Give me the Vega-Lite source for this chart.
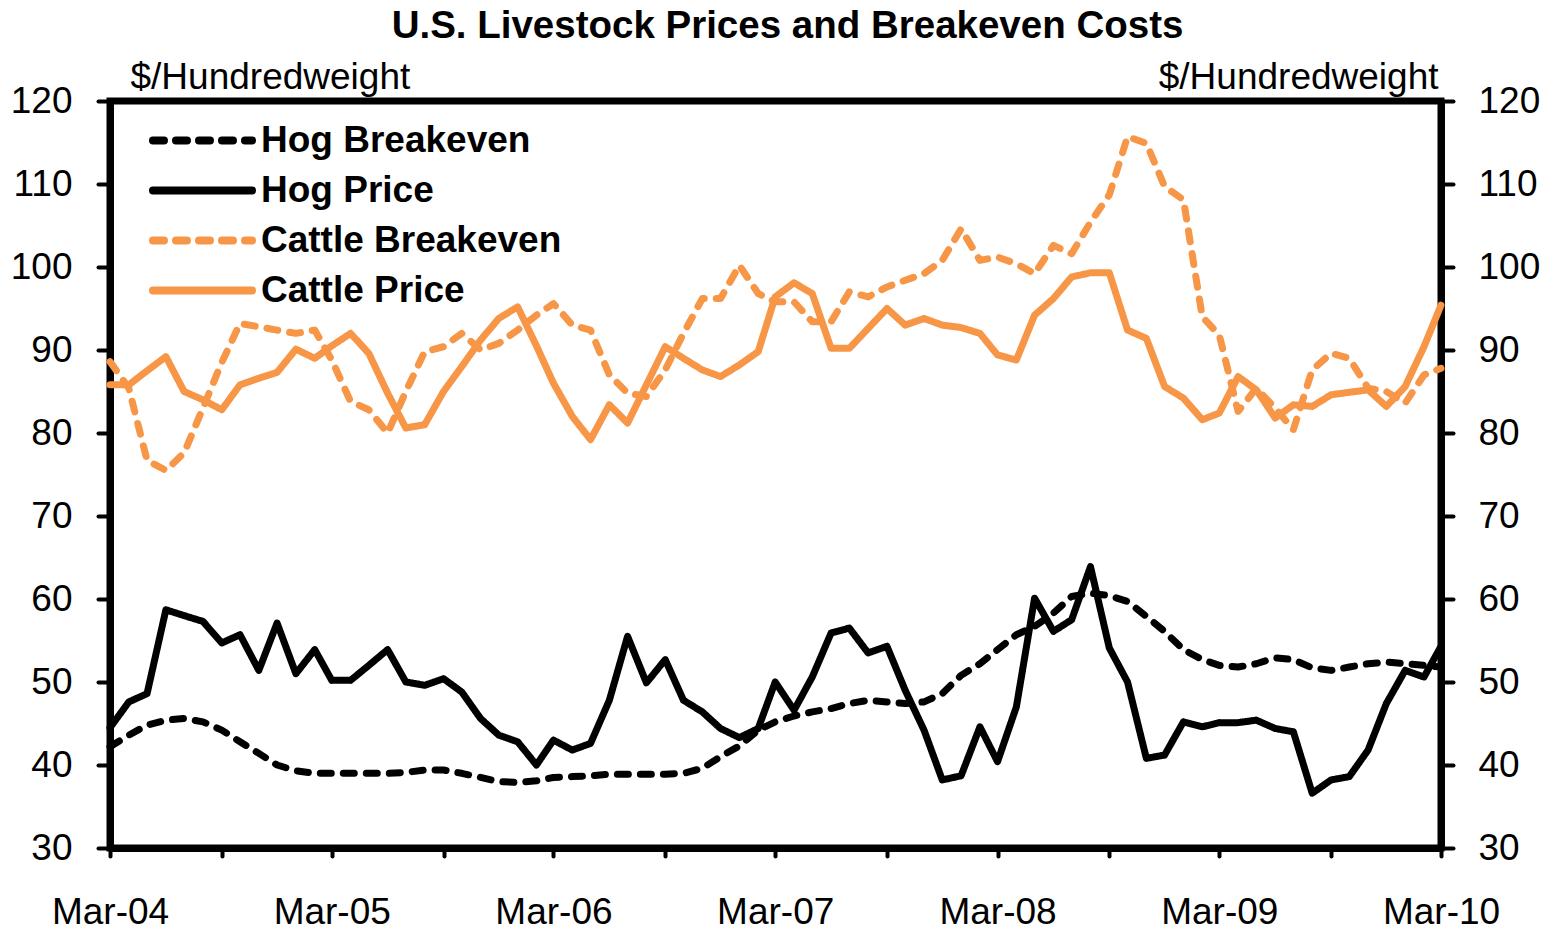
{
  "$schema": "https://vega.github.io/schema/vega-lite/v6.json",
  "width": 1331,
  "height": 747,
  "autosize": {"type": "none"},
  "padding": {"left": 110, "top": 101, "right": 104, "bottom": 82},
  "background": "white",
  "title": {"text": "U.S. Livestock Prices and Breakeven Costs", "fontSize": 38.5, "fontWeight": "bold", "font": "Liberation Sans", "color": "black", "anchor": "middle", "frame": "group", "dx": 12, "offset": 12},
  "data": {"values": [
    {"date": "2004-03-01", "Hog Breakeven": 42.2, "Hog Price": 44.5, "Cattle Breakeven": 88.6, "Cattle Price": 85.8},
    {"date": "2004-04-01", "Hog Breakeven": 43.6, "Hog Price": 47.6, "Cattle Breakeven": 85.4, "Cattle Price": 85.8},
    {"date": "2004-05-01", "Hog Breakeven": 44.8, "Hog Price": 48.6, "Cattle Breakeven": 76.7, "Cattle Price": 87.5},
    {"date": "2004-06-01", "Hog Breakeven": 45.4, "Hog Price": 58.7, "Cattle Breakeven": 75.5, "Cattle Price": 89.2},
    {"date": "2004-07-01", "Hog Breakeven": 45.6, "Hog Price": 58.0, "Cattle Breakeven": 77.6, "Cattle Price": 85.0},
    {"date": "2004-08-01", "Hog Breakeven": 45.2, "Hog Price": 57.3, "Cattle Breakeven": 83.0, "Cattle Price": 84.0},
    {"date": "2004-09-01", "Hog Breakeven": 44.2, "Hog Price": 54.7, "Cattle Breakeven": 88.5, "Cattle Price": 82.8},
    {"date": "2004-10-01", "Hog Breakeven": 42.8, "Hog Price": 55.7, "Cattle Breakeven": 93.2, "Cattle Price": 85.8},
    {"date": "2004-11-01", "Hog Breakeven": 41.4, "Hog Price": 51.4, "Cattle Breakeven": 92.8, "Cattle Price": 86.6},
    {"date": "2004-12-01", "Hog Breakeven": 40.0, "Hog Price": 57.1, "Cattle Breakeven": 92.4, "Cattle Price": 87.3},
    {"date": "2005-01-01", "Hog Breakeven": 39.3, "Hog Price": 51.0, "Cattle Breakeven": 92.0, "Cattle Price": 90.1},
    {"date": "2005-02-01", "Hog Breakeven": 39.0, "Hog Price": 53.9, "Cattle Breakeven": 92.4, "Cattle Price": 89.0},
    {"date": "2005-03-01", "Hog Breakeven": 39.0, "Hog Price": 50.2, "Cattle Breakeven": 88.8, "Cattle Price": 90.5},
    {"date": "2005-04-01", "Hog Breakeven": 39.0, "Hog Price": 50.2, "Cattle Breakeven": 83.8, "Cattle Price": 92.0},
    {"date": "2005-05-01", "Hog Breakeven": 39.0, "Hog Price": 52.0, "Cattle Breakeven": 82.8, "Cattle Price": 89.6},
    {"date": "2005-06-01", "Hog Breakeven": 39.0, "Hog Price": 53.9, "Cattle Breakeven": 80.0, "Cattle Price": 84.8},
    {"date": "2005-07-01", "Hog Breakeven": 39.1, "Hog Price": 50.0, "Cattle Breakeven": 85.0, "Cattle Price": 80.6},
    {"date": "2005-08-01", "Hog Breakeven": 39.4, "Hog Price": 49.6, "Cattle Breakeven": 89.8, "Cattle Price": 81.0},
    {"date": "2005-09-01", "Hog Breakeven": 39.4, "Hog Price": 50.4, "Cattle Breakeven": 90.4, "Cattle Price": 85.0},
    {"date": "2005-10-01", "Hog Breakeven": 39.0, "Hog Price": 48.8, "Cattle Breakeven": 92.0, "Cattle Price": 88.0},
    {"date": "2005-11-01", "Hog Breakeven": 38.5, "Hog Price": 45.6, "Cattle Breakeven": 90.0, "Cattle Price": 91.2},
    {"date": "2005-12-01", "Hog Breakeven": 38.0, "Hog Price": 43.6, "Cattle Breakeven": 90.8, "Cattle Price": 93.8},
    {"date": "2006-01-01", "Hog Breakeven": 37.9, "Hog Price": 42.8, "Cattle Breakeven": 92.4, "Cattle Price": 95.2},
    {"date": "2006-02-01", "Hog Breakeven": 38.1, "Hog Price": 40.0, "Cattle Breakeven": 94.2, "Cattle Price": 90.5},
    {"date": "2006-03-01", "Hog Breakeven": 38.5, "Hog Price": 43.0, "Cattle Breakeven": 95.6, "Cattle Price": 86.0},
    {"date": "2006-04-01", "Hog Breakeven": 38.6, "Hog Price": 41.8, "Cattle Breakeven": 93.0, "Cattle Price": 82.0},
    {"date": "2006-05-01", "Hog Breakeven": 38.7, "Hog Price": 42.6, "Cattle Breakeven": 92.4, "Cattle Price": 79.2},
    {"date": "2006-06-01", "Hog Breakeven": 38.9, "Hog Price": 47.8, "Cattle Breakeven": 87.0, "Cattle Price": 83.4},
    {"date": "2006-07-01", "Hog Breakeven": 38.9, "Hog Price": 55.5, "Cattle Breakeven": 84.8, "Cattle Price": 81.2},
    {"date": "2006-08-01", "Hog Breakeven": 38.9, "Hog Price": 49.9, "Cattle Breakeven": 84.4, "Cattle Price": 85.8},
    {"date": "2006-09-01", "Hog Breakeven": 38.9, "Hog Price": 52.7, "Cattle Breakeven": 87.6, "Cattle Price": 90.4},
    {"date": "2006-10-01", "Hog Breakeven": 39.0, "Hog Price": 47.8, "Cattle Breakeven": 92.0, "Cattle Price": 89.0},
    {"date": "2006-11-01", "Hog Breakeven": 39.6, "Hog Price": 46.4, "Cattle Breakeven": 96.2, "Cattle Price": 87.6},
    {"date": "2006-12-01", "Hog Breakeven": 41.0, "Hog Price": 44.4, "Cattle Breakeven": 96.2, "Cattle Price": 86.8},
    {"date": "2007-01-01", "Hog Breakeven": 42.3, "Hog Price": 43.3, "Cattle Breakeven": 100.2, "Cattle Price": 88.2},
    {"date": "2007-02-01", "Hog Breakeven": 44.2, "Hog Price": 44.4, "Cattle Breakeven": 96.8, "Cattle Price": 89.8},
    {"date": "2007-03-01", "Hog Breakeven": 45.2, "Hog Price": 50.0, "Cattle Breakeven": 95.8, "Cattle Price": 96.4},
    {"date": "2007-04-01", "Hog Breakeven": 45.9, "Hog Price": 46.6, "Cattle Breakeven": 95.8, "Cattle Price": 98.1},
    {"date": "2007-05-01", "Hog Breakeven": 46.4, "Hog Price": 50.6, "Cattle Breakeven": 93.4, "Cattle Price": 96.8},
    {"date": "2007-06-01", "Hog Breakeven": 46.8, "Hog Price": 55.9, "Cattle Breakeven": 93.4, "Cattle Price": 90.2},
    {"date": "2007-07-01", "Hog Breakeven": 47.4, "Hog Price": 56.5, "Cattle Breakeven": 97.0, "Cattle Price": 90.2},
    {"date": "2007-08-01", "Hog Breakeven": 47.8, "Hog Price": 53.5, "Cattle Breakeven": 96.4, "Cattle Price": 92.6},
    {"date": "2007-09-01", "Hog Breakeven": 47.6, "Hog Price": 54.3, "Cattle Breakeven": 97.6, "Cattle Price": 95.0},
    {"date": "2007-10-01", "Hog Breakeven": 47.4, "Hog Price": 49.0, "Cattle Breakeven": 98.4, "Cattle Price": 93.0},
    {"date": "2007-11-01", "Hog Breakeven": 47.6, "Hog Price": 44.2, "Cattle Breakeven": 99.2, "Cattle Price": 93.8},
    {"date": "2007-12-01", "Hog Breakeven": 48.6, "Hog Price": 38.2, "Cattle Breakeven": 100.8, "Cattle Price": 93.0},
    {"date": "2008-01-01", "Hog Breakeven": 50.8, "Hog Price": 38.7, "Cattle Breakeven": 104.6, "Cattle Price": 92.7},
    {"date": "2008-02-01", "Hog Breakeven": 52.2, "Hog Price": 44.6, "Cattle Breakeven": 100.8, "Cattle Price": 92.0},
    {"date": "2008-03-01", "Hog Breakeven": 53.9, "Hog Price": 40.4, "Cattle Breakeven": 101.2, "Cattle Price": 89.4},
    {"date": "2008-04-01", "Hog Breakeven": 55.7, "Hog Price": 47.0, "Cattle Breakeven": 100.4, "Cattle Price": 88.8},
    {"date": "2008-05-01", "Hog Breakeven": 56.7, "Hog Price": 60.1, "Cattle Breakeven": 99.2, "Cattle Price": 94.2},
    {"date": "2008-06-01", "Hog Breakeven": 58.3, "Hog Price": 56.1, "Cattle Breakeven": 102.6, "Cattle Price": 96.2},
    {"date": "2008-07-01", "Hog Breakeven": 60.3, "Hog Price": 57.5, "Cattle Breakeven": 101.6, "Cattle Price": 98.8},
    {"date": "2008-08-01", "Hog Breakeven": 60.7, "Hog Price": 63.9, "Cattle Breakeven": 105.4, "Cattle Price": 99.3},
    {"date": "2008-09-01", "Hog Breakeven": 60.4, "Hog Price": 54.1, "Cattle Breakeven": 108.7, "Cattle Price": 99.3},
    {"date": "2008-10-01", "Hog Breakeven": 59.7, "Hog Price": 50.0, "Cattle Breakeven": 115.7, "Cattle Price": 92.4},
    {"date": "2008-11-01", "Hog Breakeven": 57.9, "Hog Price": 40.8, "Cattle Breakeven": 114.9, "Cattle Price": 91.4},
    {"date": "2008-12-01", "Hog Breakeven": 56.1, "Hog Price": 41.2, "Cattle Breakeven": 109.7, "Cattle Price": 85.6},
    {"date": "2009-01-01", "Hog Breakeven": 53.9, "Hog Price": 45.2, "Cattle Breakeven": 108.1, "Cattle Price": 84.2},
    {"date": "2009-02-01", "Hog Breakeven": 52.7, "Hog Price": 44.6, "Cattle Breakeven": 94.0, "Cattle Price": 81.6},
    {"date": "2009-03-01", "Hog Breakeven": 52.0, "Hog Price": 45.1, "Cattle Breakeven": 91.8, "Cattle Price": 82.4},
    {"date": "2009-04-01", "Hog Breakeven": 51.8, "Hog Price": 45.1, "Cattle Breakeven": 82.6, "Cattle Price": 86.8},
    {"date": "2009-05-01", "Hog Breakeven": 52.2, "Hog Price": 45.4, "Cattle Breakeven": 85.4, "Cattle Price": 85.2},
    {"date": "2009-06-01", "Hog Breakeven": 52.9, "Hog Price": 44.4, "Cattle Breakeven": 83.0, "Cattle Price": 81.8},
    {"date": "2009-07-01", "Hog Breakeven": 52.7, "Hog Price": 44.0, "Cattle Breakeven": 80.4, "Cattle Price": 83.4},
    {"date": "2009-08-01", "Hog Breakeven": 51.7, "Hog Price": 36.6, "Cattle Breakeven": 87.6, "Cattle Price": 83.2},
    {"date": "2009-09-01", "Hog Breakeven": 51.4, "Hog Price": 38.2, "Cattle Breakeven": 89.6, "Cattle Price": 84.6},
    {"date": "2009-10-01", "Hog Breakeven": 51.8, "Hog Price": 38.6, "Cattle Breakeven": 89.0, "Cattle Price": 84.9},
    {"date": "2009-11-01", "Hog Breakeven": 52.2, "Hog Price": 41.8, "Cattle Breakeven": 85.4, "Cattle Price": 85.2},
    {"date": "2009-12-01", "Hog Breakeven": 52.4, "Hog Price": 47.4, "Cattle Breakeven": 85.0, "Cattle Price": 83.2},
    {"date": "2010-01-01", "Hog Breakeven": 52.2, "Hog Price": 51.4, "Cattle Breakeven": 83.6, "Cattle Price": 85.6},
    {"date": "2010-02-01", "Hog Breakeven": 52.0, "Hog Price": 50.6, "Cattle Breakeven": 87.0, "Cattle Price": 90.4},
    {"date": "2010-03-01", "Hog Breakeven": 51.8, "Hog Price": 54.3, "Cattle Breakeven": 87.8, "Cattle Price": 95.4}
  ]},
  "transform": [{"fold": ["Hog Breakeven", "Hog Price", "Cattle Breakeven", "Cattle Price"], "as": ["series", "value"]}],
  "encoding": {
    "x": {
      "field": "date", "type": "temporal",
      "scale": {"type": "utc", "domain": [{"year": 2004, "month": 3, "date": 1, "utc": true}, {"year": 2010, "month": 3, "date": 1, "utc": true}]},
      "axis": {
        "title": null,
        "values": [
          {"year": 2004, "month": 3, "date": 1, "utc": true}, {"year": 2004, "month": 9, "date": 1, "utc": true},
          {"year": 2005, "month": 3, "date": 1, "utc": true}, {"year": 2005, "month": 9, "date": 1, "utc": true},
          {"year": 2006, "month": 3, "date": 1, "utc": true}, {"year": 2006, "month": 9, "date": 1, "utc": true},
          {"year": 2007, "month": 3, "date": 1, "utc": true}, {"year": 2007, "month": 9, "date": 1, "utc": true},
          {"year": 2008, "month": 3, "date": 1, "utc": true}, {"year": 2008, "month": 9, "date": 1, "utc": true},
          {"year": 2009, "month": 3, "date": 1, "utc": true}, {"year": 2009, "month": 9, "date": 1, "utc": true},
          {"year": 2010, "month": 3, "date": 1, "utc": true}
        ],
        "labelExpr": "utcmonth(datum.value) == 2 ? utcFormat(datum.value, '%b-%y') : ''",
        "tickSize": 8,
        "labelPadding": 38,
        "labelOverlap": false,
        "labelBound": false,
        "labelFlush": false
      }
    }
  },
  "layer": [
    {
      "mark": {"type": "line", "strokeWidth": 7, "strokeJoin": "round", "strokeCap": "round"},
      "encoding": {
        "y": {
          "field": "value", "type": "quantitative",
          "scale": {"domain": [30, 120], "nice": false, "zero": false},
          "axis": {"orient": "left", "values": [30, 40, 50, 60, 70, 80, 90, 100, 110, 120], "title": "$/Hundredweight", "titleAngle": 0, "titleAlign": "left", "titleBaseline": "alphabetic", "titleX": 20, "titleY": -13, "tickSize": 12, "labelPadding": 26}
        },
        "color": {
          "field": "series", "type": "nominal",
          "scale": {"domain": ["Hog Breakeven", "Hog Price", "Cattle Breakeven", "Cattle Price"], "range": ["#000000", "#000000", "#F79646", "#F79646"]},
          "legend": {
            "orient": "none", "legendX": 74, "legendY": 21, "title": null, "padding": 0,
            "symbolType": "M-4,0H4", "symbolSize": 613, "symbolStrokeWidth": 8,
            "labelFontSize": 37, "labelFontWeight": "bold", "labelColor": "black", "labelFont": "Liberation Sans",
            "labelOffset": 40, "rowPadding": 12, "labelLimit": 0,
            "encode": {"symbols": {"update": {"strokeCap": {"value": "round"}}}}
          }
        },
        "strokeDash": {
          "field": "series", "type": "nominal",
          "scale": {"domain": ["Hog Breakeven", "Hog Price", "Cattle Breakeven", "Cattle Price"], "range": [[11, 12], [1, 0], [11, 12], [1, 0]]}
        }
      }
    },
    {
      "mark": {"type": "line", "opacity": 0},
      "encoding": {
        "detail": {"field": "series"},
        "y": {
          "field": "value", "type": "quantitative",
          "axis": {"orient": "right", "values": [30, 40, 50, 60, 70, 80, 90, 100, 110, 120], "title": "$/Hundredweight", "titleAngle": 0, "titleAlign": "right", "titleBaseline": "alphabetic", "titleX": -3, "titleY": -13, "tickSize": 12, "labelPadding": 25}
        }
      }
    }
  ],
  "resolve": {"axis": {"y": "independent"}},
  "config": {
    "font": "Liberation Sans",
    "view": {"stroke": "black", "strokeWidth": 7},
    "axis": {
      "domainColor": "black", "domainWidth": 7, "tickColor": "black", "tickWidth": 4, "tickCap": "round",
      "labelColor": "black", "labelFont": "Liberation Sans", "labelFontSize": 37, "grid": false,
      "titleColor": "black", "titleFont": "Liberation Sans", "titleFontSize": 37, "titleFontWeight": "normal"
    }
  }
}
